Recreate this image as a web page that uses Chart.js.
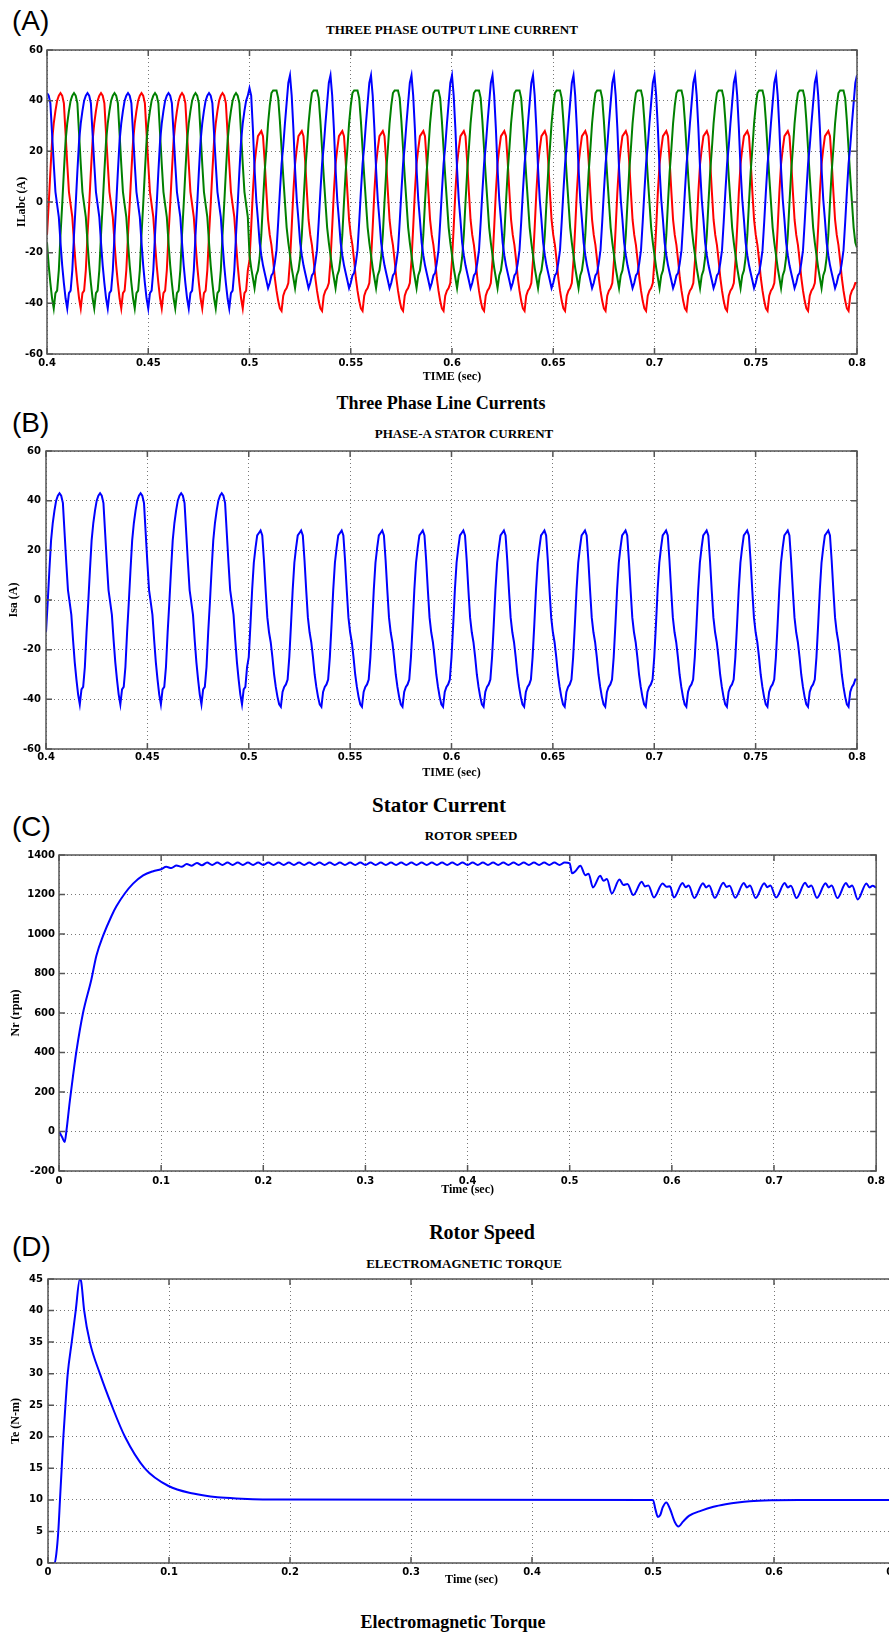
<!DOCTYPE html>
<html>
<head>
<meta charset="utf-8">
<script src="https://cdn.jsdelivr.net/npm/chart.js@4.4.0/dist/chart.umd.min.js"></script>
<style>
    html, body { margin: 0; padding: 0; background: #fff; overflow: hidden; }
    #page { position: relative; width: 889px; height: 1634px; overflow: hidden; background: #fff; }
    #page canvas { position: absolute; left: 0; }
    .panel-tag { position: absolute; left: 12px; font: 28px "Liberation Sans", Arial, sans-serif; line-height: 28px; color: #000; }
    .plot-title { position: absolute; transform: translate(-50%, -50%); font: bold 13px "Liberation Serif", serif; color: #000; white-space: nowrap; }
    .caption { position: absolute; transform: translate(-50%, -50%); font-family: "Liberation Serif", serif; font-weight: bold; color: #000; white-space: nowrap; }
</style>
</head>
<body>
<div id="page">
    <div class="panel-tag" style="top:7px">(A)</div>
    <div class="plot-title" style="left:452px; top:30px">THREE PHASE OUTPUT LINE CURRENT</div>
    <canvas id="line-current-chart" width="889" height="350" style="top:40px"></canvas>
    <div class="caption" style="left:441px; top:403px; font-size:18px">Three Phase Line Currents</div>

    <div class="panel-tag" style="top:409px">(B)</div>
    <div class="plot-title" style="left:464px; top:434px">PHASE-A STATOR CURRENT</div>
    <canvas id="stator-current-chart" width="889" height="344" style="top:440px"></canvas>
    <div class="caption" style="left:439px; top:805px; font-size:21px">Stator Current</div>

    <div class="panel-tag" style="top:813px">(C)</div>
    <div class="plot-title" style="left:471px; top:836px">ROTOR SPEED</div>
    <canvas id="rotor-speed-chart" width="889" height="356" style="top:845px"></canvas>
    <div class="caption" style="left:482px; top:1232px; font-size:20px">Rotor Speed</div>

    <div class="panel-tag" style="top:1233px">(D)</div>
    <div class="plot-title" style="left:464px; top:1264px">ELECTROMAGNETIC TORQUE</div>
    <canvas id="torque-chart" width="930" height="320" style="top:1268px"></canvas>
    <div class="caption" style="left:453px; top:1622px; font-size:18px">Electromagnetic Torque</div>
</div>

<script>
// Current traces: sampled every 1/24 of a 20 ms cycle, starting at 0.4 s
const currentStartTime = 0.4;
const sampleStep = 0.02 / 24;

// Phase A line current (A), one row per cycle, load step at 0.5 s
const phaseA = [
    -13, -1, 12, 24, 31, 36, 40, 42, 43, 42, 39, 27, 15, 4, -1, -6, -16, -25, -32, -38, -42, -36, -35, -27,
    -13, -1, 12, 24, 31, 36, 40, 42, 43, 42, 39, 27, 15, 4, -1, -6, -16, -25, -32, -38, -42, -36, -35, -27,
    -13, -1, 12, 24, 31, 36, 40, 42, 43, 42, 39, 27, 15, 4, -1, -6, -16, -25, -32, -38, -42, -36, -35, -27,
    -13, -1, 12, 24, 31, 36, 40, 42, 43, 42, 39, 27, 15, 4, -1, -6, -16, -25, -32, -38, -42, -36, -35, -27,
    -13, -1, 12, 24, 31, 36, 40, 42, 43, 42, 39, 27, 15, 4, -1, -6, -16, -25, -32, -38, -42, -36, -35, -27,
    -23, -10, 4, 15, 21, 26, 27, 28, 26, 16, 4, -7, -13, -17, -23, -30, -35, -39, -42, -43, -37, -35, -34, -32,
    -23, -10, 4, 15, 21, 26, 27, 28, 26, 16, 4, -7, -13, -17, -23, -30, -35, -39, -42, -43, -37, -35, -34, -32,
    -23, -10, 4, 15, 21, 26, 27, 28, 26, 16, 4, -7, -13, -17, -23, -30, -35, -39, -42, -43, -37, -35, -34, -32,
    -23, -10, 4, 15, 21, 26, 27, 28, 26, 16, 4, -7, -13, -17, -23, -30, -35, -39, -42, -43, -37, -35, -34, -32,
    -23, -10, 4, 15, 21, 26, 27, 28, 26, 16, 4, -7, -13, -17, -23, -30, -35, -39, -42, -43, -37, -35, -34, -32,
    -23, -10, 4, 15, 21, 26, 27, 28, 26, 16, 4, -7, -13, -17, -23, -30, -35, -39, -42, -43, -37, -35, -34, -32,
    -23, -10, 4, 15, 21, 26, 27, 28, 26, 16, 4, -7, -13, -17, -23, -30, -35, -39, -42, -43, -37, -35, -34, -32,
    -23, -10, 4, 15, 21, 26, 27, 28, 26, 16, 4, -7, -13, -17, -23, -30, -35, -39, -42, -43, -37, -35, -34, -32,
    -23, -10, 4, 15, 21, 26, 27, 28, 26, 16, 4, -7, -13, -17, -23, -30, -35, -39, -42, -43, -37, -35, -34, -32,
    -23, -10, 4, 15, 21, 26, 27, 28, 26, 16, 4, -7, -13, -17, -23, -30, -35, -39, -42, -43, -37, -35, -34, -32,
    -23, -10, 4, 15, 21, 26, 27, 28, 26, 16, 4, -7, -13, -17, -23, -30, -35, -39, -42, -43, -37, -35, -34, -32,
    -23, -10, 4, 15, 21, 26, 27, 28, 26, 16, 4, -7, -13, -17, -23, -30, -35, -39, -42, -43, -37, -35, -34, -32,
    -23, -10, 4, 15, 21, 26, 27, 28, 26, 16, 4, -7, -13, -17, -23, -30, -35, -39, -42, -43, -37, -35, -34, -32,
    -23, -10, 4, 15, 21, 26, 27, 28, 26, 16, 4, -7, -13, -17, -23, -30, -35, -39, -42, -43, -37, -35, -34, -32,
    -23, -10, 4, 15, 21, 26, 27, 28, 26, 16, 4, -7, -13, -17, -23, -30, -35, -39, -42, -43, -37, -35, -34, -32,
    -32
];

// Phase B line current (A)
const phaseB = [
    -16, -25, -32, -38, -42, -36, -35, -27, -13, -1, 12, 24, 31, 36, 40, 42, 43, 42, 39, 27, 15, 4, -1, -6,
    -16, -25, -32, -38, -42, -36, -35, -27, -13, -1, 12, 24, 31, 36, 40, 42, 43, 42, 39, 27, 15, 4, -1, -6,
    -16, -25, -32, -38, -42, -36, -35, -27, -13, -1, 12, 24, 31, 36, 40, 42, 43, 42, 39, 27, 15, 4, -1, -6,
    -16, -25, -32, -38, -42, -36, -35, -27, -13, -1, 12, 24, 31, 36, 40, 42, 43, 42, 39, 27, 15, 4, -1, -6,
    -16, -25, -32, -38, -42, -36, -35, -27, -13, -1, 12, 24, 31, 36, 40, 42, 43, 42, 39, 27, 15, 4, -1, -6,
    -21, -26, -30, -34, -29, -27, -22, -13, 0, 12, 21, 31, 38, 43, 44, 44, 44, 41, 32, 21, 10, 0, -10, -16,
    -21, -26, -30, -34, -29, -27, -22, -13, 0, 12, 21, 31, 38, 43, 44, 44, 44, 41, 32, 21, 10, 0, -10, -16,
    -21, -26, -30, -34, -29, -27, -22, -13, 0, 12, 21, 31, 38, 43, 44, 44, 44, 41, 32, 21, 10, 0, -10, -16,
    -21, -26, -30, -34, -29, -27, -22, -13, 0, 12, 21, 31, 38, 43, 44, 44, 44, 41, 32, 21, 10, 0, -10, -16,
    -21, -26, -30, -34, -29, -27, -22, -13, 0, 12, 21, 31, 38, 43, 44, 44, 44, 41, 32, 21, 10, 0, -10, -16,
    -21, -26, -30, -34, -29, -27, -22, -13, 0, 12, 21, 31, 38, 43, 44, 44, 44, 41, 32, 21, 10, 0, -10, -16,
    -21, -26, -30, -34, -29, -27, -22, -13, 0, 12, 21, 31, 38, 43, 44, 44, 44, 41, 32, 21, 10, 0, -10, -16,
    -21, -26, -30, -34, -29, -27, -22, -13, 0, 12, 21, 31, 38, 43, 44, 44, 44, 41, 32, 21, 10, 0, -10, -16,
    -21, -26, -30, -34, -29, -27, -22, -13, 0, 12, 21, 31, 38, 43, 44, 44, 44, 41, 32, 21, 10, 0, -10, -16,
    -21, -26, -30, -34, -29, -27, -22, -13, 0, 12, 21, 31, 38, 43, 44, 44, 44, 41, 32, 21, 10, 0, -10, -16,
    -21, -26, -30, -34, -29, -27, -22, -13, 0, 12, 21, 31, 38, 43, 44, 44, 44, 41, 32, 21, 10, 0, -10, -16,
    -21, -26, -30, -34, -29, -27, -22, -13, 0, 12, 21, 31, 38, 43, 44, 44, 44, 41, 32, 21, 10, 0, -10, -16,
    -21, -26, -30, -34, -29, -27, -22, -13, 0, 12, 21, 31, 38, 43, 44, 44, 44, 41, 32, 21, 10, 0, -10, -16,
    -21, -26, -30, -34, -29, -27, -22, -13, 0, 12, 21, 31, 38, 43, 44, 44, 44, 41, 32, 21, 10, 0, -10, -16,
    -21, -26, -30, -34, -29, -27, -22, -13, 0, 12, 21, 31, 38, 43, 44, 44, 44, 41, 32, 21, 10, 0, -10, -16,
    -18
];

// Phase C line current (A)
const phaseC = [
    43, 42, 39, 27, 15, 4, -1, -6, -16, -25, -32, -38, -42, -36, -35, -27, -13, -1, 12, 24, 31, 36, 40, 42,
    43, 42, 39, 27, 15, 4, -1, -6, -16, -25, -32, -38, -42, -36, -35, -27, -13, -1, 12, 24, 31, 36, 40, 42,
    43, 42, 39, 27, 15, 4, -1, -6, -16, -25, -32, -38, -42, -36, -35, -27, -13, -1, 12, 24, 31, 36, 40, 42,
    43, 42, 39, 27, 15, 4, -1, -6, -16, -25, -32, -38, -42, -36, -35, -27, -13, -1, 12, 24, 31, 36, 40, 42,
    43, 42, 39, 27, 15, 4, -1, -6, -16, -25, -32, -38, -42, -36, -35, -27, -13, -1, 12, 24, 31, 36, 40, 42,
    45, 42, 29, 13, 1, -7, -16, -21, -25, -28, -31, -34, -32, -29, -28, -24, -19, -8, 4, 15, 22, 31, 39, 47,
    50, 42, 29, 13, 1, -7, -16, -21, -25, -28, -31, -34, -32, -29, -28, -24, -19, -8, 4, 15, 22, 31, 39, 47,
    50, 42, 29, 13, 1, -7, -16, -21, -25, -28, -31, -34, -32, -29, -28, -24, -19, -8, 4, 15, 22, 31, 39, 47,
    50, 42, 29, 13, 1, -7, -16, -21, -25, -28, -31, -34, -32, -29, -28, -24, -19, -8, 4, 15, 22, 31, 39, 47,
    50, 42, 29, 13, 1, -7, -16, -21, -25, -28, -31, -34, -32, -29, -28, -24, -19, -8, 4, 15, 22, 31, 39, 47,
    50, 42, 29, 13, 1, -7, -16, -21, -25, -28, -31, -34, -32, -29, -28, -24, -19, -8, 4, 15, 22, 31, 39, 47,
    50, 42, 29, 13, 1, -7, -16, -21, -25, -28, -31, -34, -32, -29, -28, -24, -19, -8, 4, 15, 22, 31, 39, 47,
    50, 42, 29, 13, 1, -7, -16, -21, -25, -28, -31, -34, -32, -29, -28, -24, -19, -8, 4, 15, 22, 31, 39, 47,
    50, 42, 29, 13, 1, -7, -16, -21, -25, -28, -31, -34, -32, -29, -28, -24, -19, -8, 4, 15, 22, 31, 39, 47,
    50, 42, 29, 13, 1, -7, -16, -21, -25, -28, -31, -34, -32, -29, -28, -24, -19, -8, 4, 15, 22, 31, 39, 47,
    50, 42, 29, 13, 1, -7, -16, -21, -25, -28, -31, -34, -32, -29, -28, -24, -19, -8, 4, 15, 22, 31, 39, 47,
    50, 42, 29, 13, 1, -7, -16, -21, -25, -28, -31, -34, -32, -29, -28, -24, -19, -8, 4, 15, 22, 31, 39, 47,
    50, 42, 29, 13, 1, -7, -16, -21, -25, -28, -31, -34, -32, -29, -28, -24, -19, -8, 4, 15, 22, 31, 39, 47,
    50, 42, 29, 13, 1, -7, -16, -21, -25, -28, -31, -34, -32, -29, -28, -24, -19, -8, 4, 15, 22, 31, 39, 47,
    50, 42, 29, 13, 1, -7, -16, -21, -25, -28, -31, -34, -32, -29, -28, -24, -19, -8, 4, 15, 22, 31, 39, 47,
    50
];

// Rotor speed (rpm) against time (sec)
const speedTime = [
    0, 0.003, 0.0056, 0.0072, 0.0105, 0.0137, 0.017, 0.0235, 0.0317, 0.0366,
    0.0431, 0.0513, 0.0562, 0.0644, 0.0725, 0.0824, 0.0922, 0.1,
    0.105, 0.11, 0.115, 0.12, 0.125, 0.13, 0.135, 0.14,
    0.145, 0.15, 0.155, 0.16, 0.165, 0.17, 0.175, 0.18, 0.185, 0.19,
    0.195, 0.2, 0.205, 0.21, 0.215, 0.22, 0.225, 0.23, 0.235, 0.24,
    0.245, 0.25, 0.255, 0.26, 0.265, 0.27, 0.275, 0.28, 0.285, 0.29,
    0.295, 0.3, 0.305, 0.31, 0.315, 0.32, 0.325, 0.33, 0.335, 0.34,
    0.345, 0.35, 0.355, 0.36, 0.365, 0.37, 0.375, 0.38, 0.385, 0.39,
    0.395, 0.4, 0.405, 0.41, 0.415, 0.42, 0.425, 0.43, 0.435, 0.44,
    0.445, 0.45, 0.455, 0.46, 0.465, 0.47, 0.475, 0.48, 0.485, 0.49,
    0.495,
    0.5, 0.5023, 0.5055, 0.5104, 0.5153, 0.5185, 0.5227, 0.5299, 0.5331, 0.5364,
    0.5412, 0.5487, 0.5526, 0.5565, 0.5623, 0.5705, 0.5737, 0.577, 0.5825, 0.5909,
    0.5948, 0.5981, 0.602,
    0.6105, 0.6135, 0.6165, 0.622, 0.6305, 0.6335, 0.6365, 0.642,
    0.6505, 0.6535, 0.6565, 0.662, 0.6705, 0.6735, 0.6765, 0.682,
    0.6905, 0.6935, 0.6965, 0.702, 0.7105, 0.7135, 0.7165, 0.722,
    0.7305, 0.7335, 0.7365, 0.742, 0.7505, 0.7535, 0.7565, 0.762,
    0.7705, 0.7735, 0.7765, 0.782, 0.7905, 0.7935, 0.7965, 0.8
];
const speedRpm = [
    0, -28, -53, 0, 150, 280, 405, 600, 770, 890,
    990, 1090, 1140, 1205, 1255, 1297, 1318, 1328,
    1340, 1334, 1347, 1340, 1354, 1346, 1360, 1348,
    1362, 1349, 1362, 1349, 1362, 1349, 1362, 1349, 1362, 1349,
    1362, 1349, 1362, 1349, 1362, 1349, 1362, 1349, 1362, 1349,
    1362, 1349, 1362, 1349, 1362, 1349, 1362, 1349, 1362, 1349,
    1362, 1349, 1362, 1349, 1362, 1349, 1362, 1349, 1362, 1349,
    1362, 1349, 1362, 1349, 1362, 1349, 1362, 1349, 1362, 1349,
    1362, 1349, 1362, 1349, 1362, 1349, 1362, 1349, 1362, 1349,
    1362, 1349, 1362, 1349, 1362, 1349, 1362, 1349, 1362, 1349,
    1362,
    1358, 1307, 1318, 1346, 1298, 1305, 1236, 1295, 1269, 1278,
    1205, 1276, 1248, 1253, 1197, 1264, 1241, 1246, 1185, 1256,
    1239, 1242, 1185,
    1258, 1237, 1245, 1182, 1257, 1236, 1246, 1183,
    1259, 1238, 1244, 1184, 1258, 1236, 1245, 1182,
    1257, 1237, 1246, 1185, 1258, 1236, 1244, 1182,
    1259, 1238, 1245, 1183, 1257, 1236, 1246, 1182,
    1258, 1237, 1245, 1175, 1256, 1236, 1244, 1235
];

// Electromagnetic torque (N-m) against time (sec)
const torqueTime = [
    0, 0.0055, 0.0069, 0.0085, 0.0099, 0.0113, 0.0127, 0.0144, 0.0163, 0.0196,
    0.0229, 0.0263, 0.0275, 0.0299, 0.0346, 0.0429, 0.0526, 0.0636, 0.08, 0.0996,
    0.12, 0.14, 0.16, 0.19, 0.5,
    0.502, 0.504, 0.506, 0.508, 0.511, 0.514, 0.518, 0.521, 0.525, 0.53,
    0.54, 0.55, 0.56, 0.57, 0.58, 0.6, 0.62, 0.7
];
const torqueNm = [
    0, 0, 1.5, 5, 10, 15, 20, 25, 30, 35,
    40, 45, 44.5, 40, 35, 30, 25, 20, 15, 12.2,
    11, 10.4, 10.2, 10.05, 10,
    8.5, 7.3, 7.6, 8.8, 9.6, 8.6, 6.5, 5.8, 6.6, 7.5,
    8.3, 8.9, 9.3, 9.6, 9.8, 9.95, 10, 10
];

// Axis ticks
const currentTimeTicks = { min: 0.4, max: 0.8, step: 0.05 };
const currentTicks = { min: -60, max: 60, step: 20 };
const speedTimeTicks = { min: 0, max: 0.8, step: 0.1 };
const speedTicks = { min: -200, max: 1400, step: 200 };
const torqueTimeTicks = { min: 0, max: 0.7, step: 0.1 };
const torqueTicks = { min: 0, max: 45, step: 5 };

const tickFont = { family: '"DejaVu Sans", sans-serif', size: 10, weight: 'bold' };
const labelFont = { family: '"Liberation Serif", serif', size: 12, weight: 'bold' };

// Time base of the current traces
const currentTime = [];
for (let i = 0; i < phaseA.length; i++) {
    currentTime.push(currentStartTime + i * sampleStep);
}

function toPoints(times, values) {
    return values.map((v, i) => ({ x: times[i], y: v }));
}

// MATLAB style axes box with inward tick marks
const axesBox = {
    id: 'axesBox',
    afterDatasetsDraw(chart) {
        const { ctx, chartArea: a, scales } = chart;
        ctx.save();
        ctx.setLineDash([]);
        ctx.strokeStyle = '#555';
        ctx.lineWidth = 1.5;
        ctx.strokeRect(a.left, a.top, a.right - a.left, a.bottom - a.top);
        ctx.beginPath();
        scales.x.ticks.forEach(t => {
            const px = scales.x.getPixelForValue(t.value);
            ctx.moveTo(px, a.bottom);
            ctx.lineTo(px, a.bottom - 6);
            ctx.moveTo(px, a.top);
            ctx.lineTo(px, a.top + 6);
        });
        scales.y.ticks.forEach(t => {
            const py = scales.y.getPixelForValue(t.value);
            ctx.moveTo(a.left, py);
            ctx.lineTo(a.left + 6, py);
            ctx.moveTo(a.right, py);
            ctx.lineTo(a.right - 6, py);
        });
        ctx.stroke();
        ctx.restore();
    }
};

function trace(points, color, order, smooth) {
    return {
        data: points,
        borderColor: color,
        borderWidth: 2,
        pointRadius: 0,
        tension: smooth ? 0.4 : 0, // sampled currents keep their shape
        cubicInterpolationMode: smooth ? 'monotone' : 'default',
        fill: false,
        order: order
    };
}

function buildOptions(cfg) {
    return {
        responsive: false,
        animation: false,
        layout: { padding: { top: cfg.padTop, right: cfg.padRight, left: 0, bottom: 0 } },
        plugins: {
            legend: { display: false },
            tooltip: { enabled: false }
        },
        scales: {
            x: {
                type: 'linear',
                min: cfg.xTicks.min,
                max: cfg.xTicks.max,
                ticks: {
                    stepSize: cfg.xTicks.step,
                    autoSkip: false,
                    maxRotation: 0,
                    padding: cfg.xTickPad,
                    color: '#000',
                    font: tickFont,
                    callback: v => String(Math.round(v * 100) / 100)
                },
                grid: { color: '#777', lineWidth: 1, drawTicks: false },
                border: { display: false, dash: [1, 3] },
                title: {
                    display: true,
                    text: cfg.xTitle,
                    color: '#000',
                    font: labelFont,
                    padding: { top: 0, bottom: cfg.xTitlePad }
                },
                afterFit: scale => { scale.height = cfg.xHeight; }
            },
            y: {
                type: 'linear',
                min: cfg.yTicks.min,
                max: cfg.yTicks.max,
                ticks: {
                    stepSize: cfg.yTicks.step,
                    autoSkip: false,
                    padding: cfg.yTickPad,
                    color: '#000',
                    font: tickFont,
                    callback: v => String(v) // plain numbers, no thousands separator
                },
                grid: { color: '#777', lineWidth: 1, drawTicks: false },
                border: { display: false, dash: [1, 3] },
                title: {
                    display: true,
                    text: cfg.yTitle,
                    color: '#000',
                    font: labelFont,
                    padding: { top: cfg.yTitlePad, bottom: 0 }
                },
                afterFit: scale => { scale.width = cfg.yWidth; }
            }
        }
    };
}

function initializeCharts() {
    new Chart(document.getElementById('line-current-chart').getContext('2d'), {
        type: 'line',
        data: {
            datasets: [
                trace(toPoints(currentTime, phaseA), '#ff0000', 2, false),
                trace(toPoints(currentTime, phaseB), '#008000', 1, false),
                trace(toPoints(currentTime, phaseC), '#0000ff', 0, false)
            ]
        },
        options: buildOptions({
            padTop: 7, padRight: 32, yWidth: 47, xHeight: 36,
            xTickPad: 3, yTickPad: 4, xTitlePad: 6, yTitlePad: 15,
            xTicks: currentTimeTicks, yTicks: currentTicks,
            xTitle: 'TIME (sec)', yTitle: 'ILabc (A)'
        }),
        plugins: [axesBox]
    });

    new Chart(document.getElementById('stator-current-chart').getContext('2d'), {
        type: 'line',
        data: {
            datasets: [trace(toPoints(currentTime, phaseA), '#0000ff', 0, false)]
        },
        options: buildOptions({
            padTop: 8, padRight: 32, yWidth: 46, xHeight: 35,
            xTickPad: 2, yTickPad: 5, xTitlePad: 4, yTitlePad: 7,
            xTicks: currentTimeTicks, yTicks: currentTicks,
            xTitle: 'TIME (sec)', yTitle: 'Isa (A)'
        }),
        plugins: [axesBox]
    });

    new Chart(document.getElementById('rotor-speed-chart').getContext('2d'), {
        type: 'line',
        data: {
            datasets: [trace(toPoints(speedTime, speedRpm), '#0000ff', 0, true)]
        },
        options: buildOptions({
            padTop: 7, padRight: 8, yWidth: 59, xHeight: 30,
            xTickPad: 4, yTickPad: 4, xTitlePad: 4, yTitlePad: 9,
            xTicks: speedTimeTicks, yTicks: speedTicks,
            xTitle: 'Time (sec)', yTitle: 'Nr (rpm)'
        }),
        plugins: [axesBox]
    });

    new Chart(document.getElementById('torque-chart').getContext('2d'), {
        type: 'line',
        data: {
            datasets: [trace(toPoints(torqueTime, torqueNm), '#0000ff', 0, true)]
        },
        options: buildOptions({
            padTop: 7, padRight: 35, yWidth: 48, xHeight: 25,
            xTickPad: 3, yTickPad: 5, xTitlePad: 1, yTitlePad: 9,
            xTicks: torqueTimeTicks, yTicks: torqueTicks,
            xTitle: 'Time (sec)', yTitle: 'Te (N-m)'
        }),
        plugins: [axesBox]
    });
}

initializeCharts();
</script>
</body>
</html>
